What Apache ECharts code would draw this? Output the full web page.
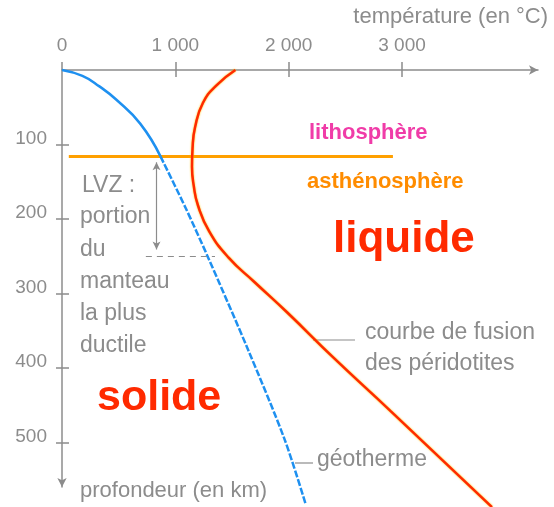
<!DOCTYPE html>
<html>
<head>
<meta charset="utf-8">
<script src="https://cdn.jsdelivr.net/npm/echarts@6/dist/echarts.min.js"></script>
<style>
  html, body { margin: 0; padding: 0; background: #fff; }
  #chart { width: 554px; height: 507px; }
</style>
</head>
<body>
<div id="chart"></div>
<script>
  // ticks
  const tempTicks = [0, 1000, 2000, 3000]
  const depthTicks = [100, 200, 300, 400, 500]

  // géotherme, partie haute (lithosphère) : [température, profondeur]
  const geothermTop = [[0, 0], [180, 8], [330, 22], [480, 40], [690, 72], [869, 116]]
  // géotherme, partie basse (pointillés)
  const geothermLow = [[869, 116], [1090, 185], [1284, 250], [1640, 375], [1964, 496], [2150, 583]]
  // courbe de fusion des péridotites
  const solidus = [
    [1530, 0], [1368, 20], [1244, 44], [1174, 77], [1152, 105], [1147, 130],
    [1162, 155], [1200, 182], [1300, 217], [1470, 252], [1700, 285], [1990, 326],
    [2400, 387], [2900, 458], [3794, 587]
  ]
  // limite lithosphère / asthénosphère
  const lithoBase = [[60, 116], [2920, 116]]
  // LVZ
  const lvzTop = 124
  const lvzBottom = 241
  const lvzTemp = 834
  const lvzLine = [[740, 250], [1350, 250]]

  const gray = "#8c8c8c"
  const fontAxis = "22px 'Liberation Sans', Arial, sans-serif"
  const fontNote = "23px 'Liberation Sans', Arial, sans-serif"

  const chart = echarts.init(document.getElementById("chart"))

  const fmtTemp = v => v === 0 ? "0" : (v / 1000) + " 000"

  const txt = (text, x, y, font, fill, align) => ({
    type: "text",
    x: x,
    y: y,
    style: {
      text: text,
      font: font,
      fill: fill,
      textAlign: align || "left",
      textVerticalAlign: "middle"
    }
  })

  const seg = (x1, y1, x2, y2) => ({
    type: "line",
    shape: { x1: x1, y1: y1, x2: x2, y2: y2 },
    style: { stroke: gray, lineWidth: 1.2 }
  })

  chart.setOption({
    animation: false,
    grid: { left: 62, top: 70, width: 476, height: 417 },
    xAxis: [
      {
        type: "value",
        position: "top",
        min: 0,
        max: 4200,
        axisLine: {
          show: true,
          symbol: ["none", "arrow"],
          symbolSize: [7, 9],
          lineStyle: { color: gray, width: 1.5 }
        },
        axisTick: {
          show: true,
          length: 8,
          customValues: tempTicks,
          lineStyle: { color: gray, width: 1.5 }
        },
        axisLabel: {
          customValues: tempTicks,
          formatter: fmtTemp,
          margin: 15,
          color: gray,
          fontSize: 19,
          fontFamily: "Liberation Sans"
        },
        splitLine: { show: false }
      },
      {
        type: "value",
        position: "top",
        min: 0,
        max: 4200,
        axisLine: { show: false },
        axisTick: {
          show: true,
          inside: true,
          length: 7,
          customValues: tempTicks.slice(1),
          lineStyle: { color: gray, width: 1.5 }
        },
        axisLabel: { show: false },
        splitLine: { show: false }
      }
    ],
    yAxis: [
      {
        type: "value",
        position: "left",
        inverse: true,
        min: 0,
        max: 560,
        axisLine: {
          show: true,
          symbol: ["arrow", "none"],
          symbolSize: [7, 9],
          lineStyle: { color: gray, width: 1.5 }
        },
        axisTick: {
          show: true,
          length: 6,
          customValues: depthTicks,
          lineStyle: { color: gray, width: 1.5 }
        },
        axisLabel: {
          customValues: depthTicks,
          margin: 15,
          verticalAlign: "bottom",
          lineHeight: 12,
          color: gray,
          fontSize: 19,
          fontFamily: "Liberation Sans"
        },
        splitLine: { show: false }
      },
      {
        type: "value",
        position: "left",
        inverse: true,
        min: 0,
        max: 560,
        axisLine: { show: false },
        axisTick: {
          show: true,
          inside: true,
          length: 7,
          customValues: depthTicks,
          lineStyle: { color: gray, width: 1.5 }
        },
        axisLabel: { show: false },
        splitLine: { show: false }
      }
    ],
    series: [
      {
        name: "lithosphère",
        type: "line",
        data: lithoBase,
        showSymbol: false,
        lineStyle: { color: "#FFA000", width: 3 },
        z: 3
      },
      {
        name: "géotherme",
        type: "line",
        data: geothermTop,
        smooth: true,
        showSymbol: false,
        clip: false,
        lineStyle: { color: "#1E90F0", width: 2.5 }
      },
      {
        name: "géotherme bas",
        type: "line",
        data: geothermLow,
        smooth: 0.3,
        showSymbol: false,
        clip: false,
        lineStyle: { color: "#1E90F0", width: 2.5, type: [7, 2] },
        markLine: {
          silent: true,
          symbol: ["arrow", "arrow"],
          symbolSize: [6, 8],
          label: { show: false },
          lineStyle: { color: gray, width: 1.2, type: "solid" },
          data: [
            [{ coord: [lvzTemp, lvzTop] }, { coord: [lvzTemp, lvzBottom] }],
            [
              { coord: lvzLine[0], symbol: "none", lineStyle: { type: [6, 5] } },
              { coord: lvzLine[1], symbol: "none" }
            ]
          ]
        }
      },
      {
        name: "courbe de fusion",
        type: "line",
        data: solidus,
        smooth: 0.5,
        showSymbol: false,
        clip: false,
        lineStyle: {
          color: "#FF2A00",
          width: 2.5,
          shadowColor: "#FFC400",
          shadowBlur: 2
        }
      }
    ],
    graphic: [
      txt("température (en °C)", 548, 17, fontAxis, gray, "right"),
      txt("profondeur (en km)", 80, 491, fontAxis, gray),
      txt("LVZ :", 82, 186, fontNote, gray),
      txt("portion", 80, 217, fontNote, gray),
      txt("du", 80, 250, fontNote, gray),
      txt("manteau", 80, 282, fontNote, gray),
      txt("la plus", 80, 314, fontNote, gray),
      txt("ductile", 80, 346, fontNote, gray),
      txt("lithosphère", 309, 133, "bold 22px 'Liberation Sans', Arial, sans-serif", "#F03CA8"),
      txt("asthénosphère", 307, 182, "bold 22px 'Liberation Sans', Arial, sans-serif", "#FF8C00"),
      txt("liquide", 333, 240, "bold 44px 'Liberation Sans', Arial, sans-serif", "#FF2A00"),
      txt("solide", 97, 398, "bold 43px 'Liberation Sans', Arial, sans-serif", "#FF2A00"),
      txt("courbe de fusion", 365, 333, fontNote, gray),
      txt("des péridotites", 365, 364, fontNote, gray),
      txt("géotherme", 317, 460, fontNote, gray),
      seg(313, 340, 355, 340),
      seg(295, 463, 313, 463)
    ]
  })

  window.addEventListener("resize", () => {
    chart && chart.resize()
  })
</script>
</body>
</html>
